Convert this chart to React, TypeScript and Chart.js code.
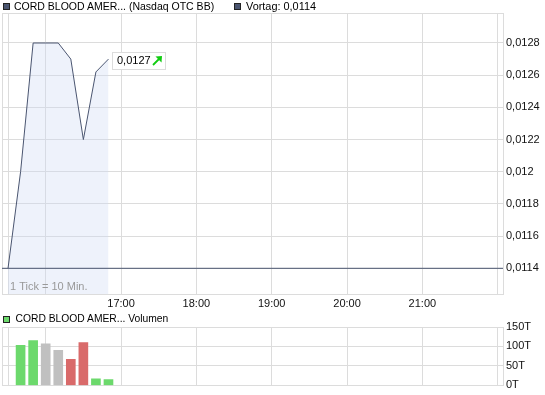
import React, { useEffect, useRef } from 'react';
import { Chart, registerables } from 'chart.js';

Chart.register(...registerables);

// ---------- data ----------
const priceTimes = ['15:30', '15:40', '15:50', '16:00', '16:10', '16:20', '16:30', '16:40', '16:50'];
const priceValues = [0.0114, 0.012, 0.0128, 0.0128, 0.0128, 0.0127, 0.0122, 0.01262, 0.0127];
const volumeTimes = ['15:40', '15:50', '16:00', '16:10', '16:20', '16:30', '16:40', '16:50'];
const volumeValues = [103, 115, 107, 90, 67, 110, 17, 15]; // in thousands (T)
const volumeDirections = ['up', 'up', 'flat', 'flat', 'down', 'down', 'up', 'up'];
const previousClose = 0.0114;
const xTickTimes = ['15:30', '16:00', '17:00', '18:00', '19:00', '20:00', '21:00', '22:00'];
const xTickLabels = ['', '', '17:00', '18:00', '19:00', '20:00', '21:00', ''];
const priceTicks = [0.0114, 0.0116, 0.0118, 0.012, 0.0122, 0.0124, 0.0126, 0.0128];
const volumeTicks = [0, 50, 100, 150];
const lastPriceLabel = '0,0127';

// ---------- style ----------
const FONT = '"Liberation Sans", Arial, sans-serif';
const GRID = '#dcdcdc';
const LINE = '#4a5570';
const FILL = 'rgba(206,218,244,0.35)';
const GREEN = '#6cd96c';
const GRAY = '#c0c0c0';
const RED = '#d96a6a';
const dirColor: Record<string, string> = { up: GREEN, flat: GRAY, down: RED };

const toMin = (t: string) => {
  const [h, m] = t.split(':').map(Number);
  return h * 60 + m;
};
const X_MIN = 925.2;
const X_MAX = 1324.2;
const Y_MIN = 0.0112403;
const Y_MAX = 0.0129864;

const fmtPrice = (v: number) => String(Math.round(v * 1e5) / 1e5).replace('.', ',');

const borderPlugin = {
  id: 'boxBorder',
  beforeDatasetsDraw(chart: any) {
    const { ctx, chartArea: a } = chart;
    ctx.save();
    ctx.strokeStyle = GRID;
    ctx.lineWidth = 1;
    ctx.strokeRect(Math.round(a.left) + 0.5, Math.round(a.top) + 0.5, Math.round(a.right - a.left), Math.round(a.bottom - a.top));
    ctx.restore();
  },
};

const priceOverlay = {
  id: 'priceOverlay',
  afterDatasetsDraw(chart: any) {
    const { ctx, chartArea: a } = chart;
    ctx.save();
    // tick info text
    ctx.font = `11px ${FONT}`;
    ctx.fillStyle = '#999';
    ctx.textBaseline = 'middle';
    ctx.fillText('1 Tick = 10 Min.', 10, a.bottom - 7);
    // last price label box
    const meta = chart.getDatasetMeta(1);
    const pt = meta.data[meta.data.length - 1];
    const bx = Math.round(pt.x) + 4;
    const by = Math.round(pt.y) - 7;
    ctx.fillStyle = '#fff';
    ctx.fillRect(bx, by, 53, 17);
    ctx.strokeStyle = GRID;
    ctx.lineWidth = 1;
    ctx.strokeRect(bx + 0.5, by + 0.5, 53, 17);
    ctx.fillStyle = '#000';
    ctx.font = `11px ${FONT}`;
    ctx.fillText(lastPriceLabel, bx + 5, by + 9);
    // green arrow
    const ax = bx + 41;
    const ay = by + 13;
    ctx.strokeStyle = '#11cc11';
    ctx.fillStyle = '#11cc11';
    ctx.lineWidth = 1.8;
    ctx.beginPath();
    ctx.moveTo(ax, ay);
    ctx.lineTo(ax + 6, ay - 6);
    ctx.stroke();
    ctx.beginPath();
    ctx.moveTo(ax + 9, ay - 9);
    ctx.lineTo(ax + 2.5, ay - 8.5);
    ctx.lineTo(ax + 8.5, ay - 2.5);
    ctx.closePath();
    ctx.fill();
    ctx.restore();
  },
};

const makeX = (showLabels: boolean) => ({
  type: 'linear' as const,
  min: X_MIN,
  max: X_MAX,
  offset: false,
  afterBuildTicks: (s: any) => {
    s.ticks = xTickTimes.map((t) => ({ value: toMin(t) }));
  },
  afterFit: (s: any) => {
    s.height = showLabels ? 18 : 0;
  },
  ticks: {
    display: showLabels,
    autoSkip: false,
    maxRotation: 0,
    padding: 3,
    color: '#111',
    font: { family: FONT, size: 11 },
    callback: (_v: any, i: number) => xTickLabels[i],
  },
  grid: { color: GRID, drawTicks: false, lineWidth: 1, offset: false },
  border: { display: false },
});

export default function App() {
  const priceRef = useRef<HTMLCanvasElement>(null);
  const volRef = useRef<HTMLCanvasElement>(null);

  useEffect(() => {
    document.body.style.margin = '0';
    const c1 = new Chart(priceRef.current!, {
      type: 'line',
      data: {
        datasets: [
          {
            label: 'Vortag',
            data: [
              { x: X_MIN, y: previousClose },
              { x: X_MAX, y: previousClose },
            ],
            borderColor: LINE,
            borderWidth: 1,
            pointRadius: 0,
            fill: false,
          },
          {
            label: 'CORD BLOOD AMER...',
            data: priceTimes.map((t, i) => ({ x: toMin(t), y: priceValues[i] })),
            borderColor: LINE,
            borderWidth: 1,
            pointRadius: 0,
            tension: 0,
            fill: 'start',
            backgroundColor: FILL,
          },
        ],
      },
      options: {
        responsive: false,
        animation: false,
        devicePixelRatio: 1,
        layout: { padding: { left: 2, top: 13, right: 0, bottom: 0 } },
        plugins: { legend: { display: false }, tooltip: { enabled: false } },
        scales: {
          x: makeX(true) as any,
          y: {
            position: 'right',
            min: Y_MIN,
            max: Y_MAX,
            afterBuildTicks: (s: any) => {
              s.ticks = priceTicks.map((v) => ({ value: v }));
            },
            afterFit: (s: any) => {
              s.width = 42;
            },
            ticks: {
              padding: 3,
              color: '#111',
              font: { family: FONT, size: 11 },
              callback: (v: any) => fmtPrice(Number(v)),
            },
            grid: { color: GRID, drawTicks: false },
            border: { display: false },
          },
        },
      },
      plugins: [borderPlugin, priceOverlay],
    });

    const c2 = new Chart(volRef.current!, {
      type: 'bar',
      data: {
        datasets: [
          {
            label: 'Volumen',
            data: volumeTimes.map((t, i) => ({ x: toMin(t), y: volumeValues[i] })),
            backgroundColor: volumeDirections.map((d) => dirColor[d]),
            barThickness: 9,
            borderWidth: 0,
          },
        ],
      },
      options: {
        responsive: false,
        animation: false,
        devicePixelRatio: 1,
        layout: { padding: { left: 2, top: 15, right: 0, bottom: 9 } },
        plugins: { legend: { display: false }, tooltip: { enabled: false } },
        scales: {
          x: makeX(false) as any,
          y: {
            position: 'right',
            min: 0,
            max: 150,
            afterBuildTicks: (s: any) => {
              s.ticks = volumeTicks.map((v) => ({ value: v }));
            },
            afterFit: (s: any) => {
              s.width = 42;
            },
            ticks: {
              padding: 3,
              color: '#111',
              font: { family: FONT, size: 11 },
              callback: (v: any) => `${v}T`,
            },
            grid: { color: GRID, drawTicks: false },
            border: { display: false },
          },
        },
      },
      plugins: [borderPlugin],
    });

    return () => {
      c1.destroy();
      c2.destroy();
    };
  }, []);

  const textStyle = (size: number): React.CSSProperties => ({
    position: 'absolute',
    fontFamily: FONT,
    fontSize: size,
    lineHeight: '12px',
    color: '#000',
    whiteSpace: 'nowrap',
  });
  const icon = (left: number, top: number, size: number, color: string): React.CSSProperties => ({
    position: 'absolute',
    left,
    top,
    width: size,
    height: size,
    background: color,
    border: '1px solid #222',
  });

  return (
    <div style={{ position: 'relative', width: 545, height: 395, background: '#fff', overflow: 'hidden' }}>
      <canvas ref={priceRef} width={545} height={312} style={{ position: 'absolute', left: 0, top: 0 }} />
      <canvas ref={volRef} width={545} height={83} style={{ position: 'absolute', left: 0, top: 312 }} />
      <div style={icon(3, 3, 5, LINE)} />
      <div style={{ ...textStyle(10.5), left: 14, top: 0 }}>CORD BLOOD AMER... (Nasdaq OTC BB)</div>
      <div style={icon(234, 3, 5, LINE)} />
      <div style={{ ...textStyle(10.9), left: 246, top: 0 }}>Vortag: 0,0114</div>
      <div style={icon(3, 316, 5, GREEN)} />
      <div style={{ ...textStyle(10.3), left: 15.5, top: 313 }}>CORD BLOOD AMER... Volumen</div>
    </div>
  );
}
